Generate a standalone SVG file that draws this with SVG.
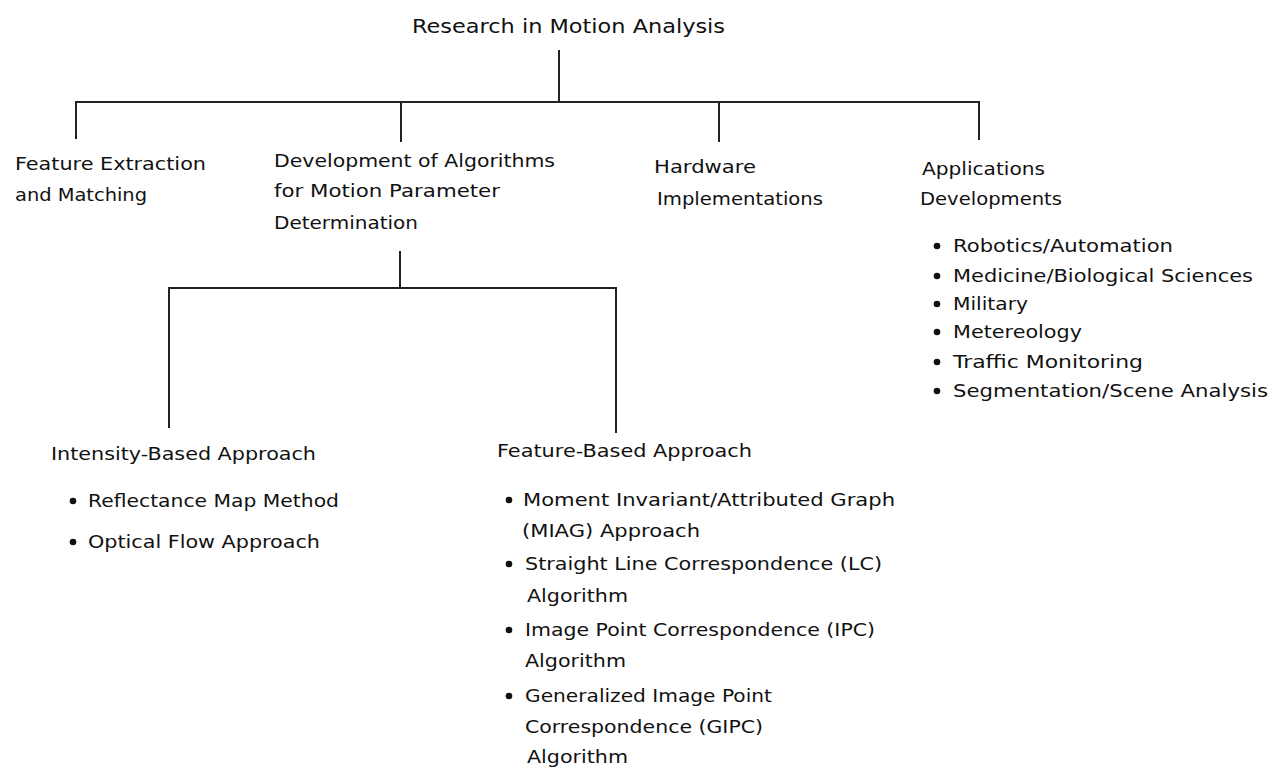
<svg xmlns="http://www.w3.org/2000/svg" width="1275" height="771" viewBox="0 0 1275 771">
<style>
text{font-family:"DejaVu Sans","Liberation Sans",sans-serif;font-size:18px;fill:#111}
.t{font-size:19px}
.c{stroke:#222;stroke-width:2;fill:none}
.b{fill:#111}
</style>
<rect width="1275" height="771" fill="#fff"/>
<g id="connectors" class="c">
<path d="M559 50V102M76 139V102H979V140M401 102V142M719 102V142"/>
<path d="M400 251V288M169 428V288H616V433"/>
</g>
<g id="root"><text class="t" x="412" y="33" textLength="313" lengthAdjust="spacingAndGlyphs">Research in Motion Analysis</text></g>
<g id="feature-extraction">
<text x="15" y="170" textLength="191" lengthAdjust="spacingAndGlyphs">Feature Extraction</text>
<text x="15" y="201" textLength="132" lengthAdjust="spacingAndGlyphs">and Matching</text>
</g>
<g id="algorithms">
<text x="274" y="167" textLength="281" lengthAdjust="spacingAndGlyphs">Development of Algorithms</text>
<text x="274" y="197" textLength="226" lengthAdjust="spacingAndGlyphs">for Motion Parameter</text>
<text x="274" y="229" textLength="144" lengthAdjust="spacingAndGlyphs">Determination</text>
</g>
<g id="hardware">
<text x="654" y="173" textLength="102" lengthAdjust="spacingAndGlyphs">Hardware</text>
<text x="657" y="205" textLength="166" lengthAdjust="spacingAndGlyphs">Implementations</text>
</g>
<g id="applications">
<text x="922" y="175" textLength="123" lengthAdjust="spacingAndGlyphs">Applications</text>
<text x="920" y="205" textLength="142" lengthAdjust="spacingAndGlyphs">Developments</text>
<circle class="b" cx="937" cy="246" r="3.3"/><text x="953" y="252" textLength="220" lengthAdjust="spacingAndGlyphs">Robotics/Automation</text>
<circle class="b" cx="937" cy="276" r="3.3"/><text x="953" y="282" textLength="300" lengthAdjust="spacingAndGlyphs">Medicine/Biological Sciences</text>
<circle class="b" cx="937" cy="304" r="3.3"/><text x="953" y="310" textLength="75" lengthAdjust="spacingAndGlyphs">Military</text>
<circle class="b" cx="937" cy="332" r="3.3"/><text x="953" y="338" textLength="129" lengthAdjust="spacingAndGlyphs">Metereology</text>
<circle class="b" cx="937" cy="362" r="3.3"/><text x="953" y="368" textLength="190" lengthAdjust="spacingAndGlyphs">Traffic Monitoring</text>
<circle class="b" cx="937" cy="391" r="3.3"/><text x="953" y="397" textLength="315" lengthAdjust="spacingAndGlyphs">Segmentation/Scene Analysis</text>
</g>
<g id="intensity">
<text x="51" y="460" textLength="265" lengthAdjust="spacingAndGlyphs">Intensity-Based Approach</text>
<circle class="b" cx="73" cy="501" r="3.3"/><text x="88" y="507" textLength="251" lengthAdjust="spacingAndGlyphs">Reflectance Map Method</text>
<circle class="b" cx="73" cy="542" r="3.3"/><text x="88" y="548" textLength="232" lengthAdjust="spacingAndGlyphs">Optical Flow Approach</text>
</g>
<g id="feature-based">
<text x="497" y="457" textLength="255" lengthAdjust="spacingAndGlyphs">Feature-Based Approach</text>
<circle class="b" cx="509" cy="500" r="3.3"/><text x="523" y="506" textLength="372" lengthAdjust="spacingAndGlyphs">Moment Invariant/Attributed Graph</text>
<text x="522" y="537" textLength="178" lengthAdjust="spacingAndGlyphs">(MIAG) Approach</text>
<circle class="b" cx="509" cy="564" r="3.3"/><text x="525" y="570" textLength="357" lengthAdjust="spacingAndGlyphs">Straight Line Correspondence (LC)</text>
<text x="527" y="602" textLength="101" lengthAdjust="spacingAndGlyphs">Algorithm</text>
<circle class="b" cx="509" cy="630" r="3.3"/><text x="525" y="636" textLength="350" lengthAdjust="spacingAndGlyphs">Image Point Correspondence (IPC)</text>
<text x="525" y="667" textLength="101" lengthAdjust="spacingAndGlyphs">Algorithm</text>
<circle class="b" cx="509" cy="696" r="3.3"/><text x="525" y="702" textLength="247" lengthAdjust="spacingAndGlyphs">Generalized Image Point</text>
<text x="525" y="733" textLength="238" lengthAdjust="spacingAndGlyphs">Correspondence (GIPC)</text>
<text x="527" y="763" textLength="101" lengthAdjust="spacingAndGlyphs">Algorithm</text>
</g>
</svg>
